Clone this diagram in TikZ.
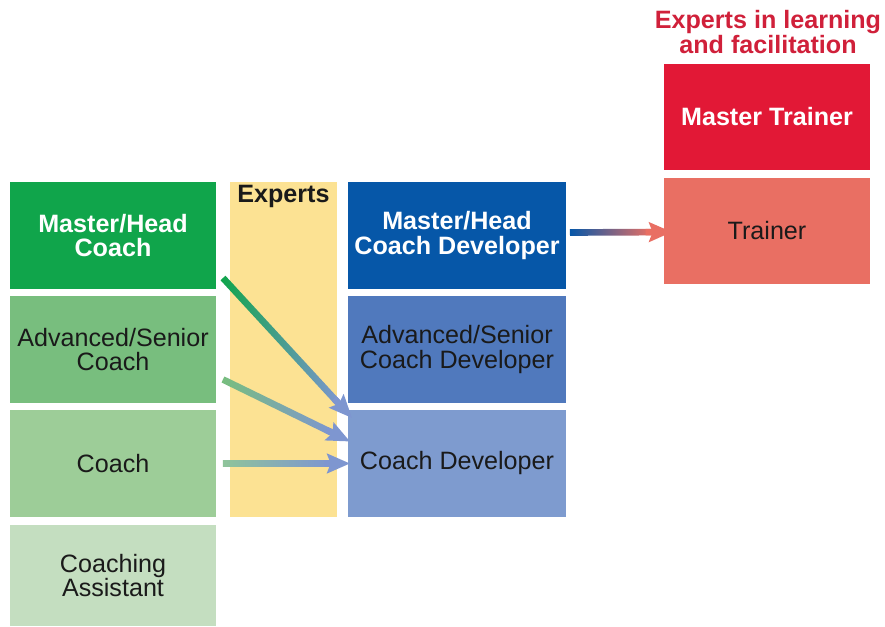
\documentclass[tikz,border=0pt]{standalone}
\usepackage{fontspec}
\setmainfont{Liberation Sans}
\usepackage{xcolor}
\usetikzlibrary{calc,arrows.meta}
\definecolor{VertFonce}{HTML}{10A54B}
\definecolor{VertMoyen}{HTML}{78BE7E}
\definecolor{VertClair}{HTML}{9DCD98}
\definecolor{VertPale}{HTML}{C4DEC0}
\definecolor{JauneExp}{HTML}{FCE293}
\definecolor{BleuFonce}{HTML}{0657A8}
\definecolor{BleuMoyen}{HTML}{5079BD}
\definecolor{BleuClair}{HTML}{7E9BCF}
\definecolor{RougeFonce}{HTML}{E21836}
\definecolor{RougeClair}{HTML}{E96F63}
\definecolor{RougeTitre}{HTML}{D0203A}
\definecolor{TexteNoir}{HTML}{1A1A1A}
\definecolor{FlecheBleu}{HTML}{7E96D0}
\definecolor{FlecheVert}{HTML}{8FC49A}
\tikzset{
Case/.style={
 fill=#1, 
 draw=none, 
 inner sep=0pt, 
 outer sep=0pt, 
 align=center, 
 text=TexteNoir, 
 font=\fontsize{14.3}{13.7}\selectfont
 },
CaseForte/.style={
 Case=#1, 
 text=white, 
 font=\fontsize{14.3}{13.7}\selectfont\bfseries
 },
GradTrait/.style={
 draw=none, 
 anchor=west, 
 minimum height=3.8pt, 
 inner sep=0pt, 
 outer sep=0pt
 },
GradTete/.style={
 line width=3.8pt, 
 -{Stealth[length=13pt,width=11pt,inset=2pt]}
 }
}
\newcommand{\GradFleche}[4]{%
 \coordinate (gf-b) at ($(#2)!12pt!(#1)$);
 \path let \p1=($(gf-b)-(#1)$), \n1={atan2(\y1,\x1)}, \n2={veclen(\x1,\y1)} in
  node[GradTrait, rotate=\n1, minimum width=\n2, left color=#3, right color=#4] at (#1) {};
 \draw[GradTete, draw=#4, fill=#4] ($(#2)!15pt!(#1)$) -- (#2);
}

\begin{document}
\begin{tikzpicture}[x=0.02cm,y=0.02cm]
\useasboundingbox (0,0) rectangle (885,626);
% coaches
\node[CaseForte=VertFonce, minimum width=4.12cm, minimum height=2.14cm] (mhc) at (113,390.5) {Master/Head\\Coach};
\node[Case=VertMoyen, minimum width=4.12cm, minimum height=2.14cm] (asc) at (113,276.5) {Advanced/Senior\\Coach};
\node[Case=VertClair, minimum width=4.12cm, minimum height=2.14cm] (coach) at (113,162.5) {Coach};
\node[Case=VertPale, minimum width=4.12cm, minimum height=2.02cm] (ca) at (113,50.5) {Coaching\\Assistant};
% experts
\node[Case=JauneExp, minimum width=2.14cm, minimum height=6.7cm] (exp) at (283.5,276.5) {};
\node[anchor=north, inner sep=0pt, text=TexteNoir, font=\fontsize{14.3}{13.7}\selectfont\bfseries] (explab) at (283.5,441) {Experts};
% coach developers
\node[CaseForte=BleuFonce, minimum width=4.36cm, minimum height=2.14cm] (mhcd) at (457,390.5) {Master/Head\\Coach Developer};
\node[Case=BleuMoyen, minimum width=4.36cm, minimum height=2.14cm] (ascd) at (457,276.5) {Advanced/Senior\\Coach Developer};
\node[Case=BleuClair, minimum width=4.36cm, minimum height=2.14cm] (cd) at (457,162.5) {Coach Developer};
% trainers
\node[text=RougeTitre, align=center, inner sep=0pt, font=\fontsize{14.3}{13.7}\selectfont\bfseries] (titre) at (768,594) {Experts in learning\\and facilitation};
\node[CaseForte=RougeFonce, minimum width=4.12cm, minimum height=2.12cm] (mt) at (767,509) {Master Trainer};
\node[Case=RougeClair, minimum width=4.12cm, minimum height=2.12cm] (tr) at (767,395) {Trainer};
% fleches
\coordinate (a1s) at ($(mhc.south east)+(7,11)$);
\coordinate (a1e) at ($(cd.north west)+(4,-8)$);
\coordinate (a2s) at ($(asc.east)+(7,-30)$);
\coordinate (a2e) at ($(cd.west)+(2,22)$);
\coordinate (a3s) at ($(coach.east)+(7,0)$);
\coordinate (a3e) at ($(cd.west)+(2,0)$);
\coordinate (ts) at ($(mhcd.east)+(4,3)$);
\coordinate (te) at ($(tr.west)+(8,-1)$);
\GradFleche{a1s}{a1e}{VertFonce}{FlecheBleu}
\GradFleche{a2s}{a2e}{VertMoyen}{FlecheBleu}
\GradFleche{a3s}{a3e}{FlecheVert}{FlecheBleu}
\GradFleche{ts}{te}{BleuFonce}{RougeClair}
\end{tikzpicture}
\end{document}
